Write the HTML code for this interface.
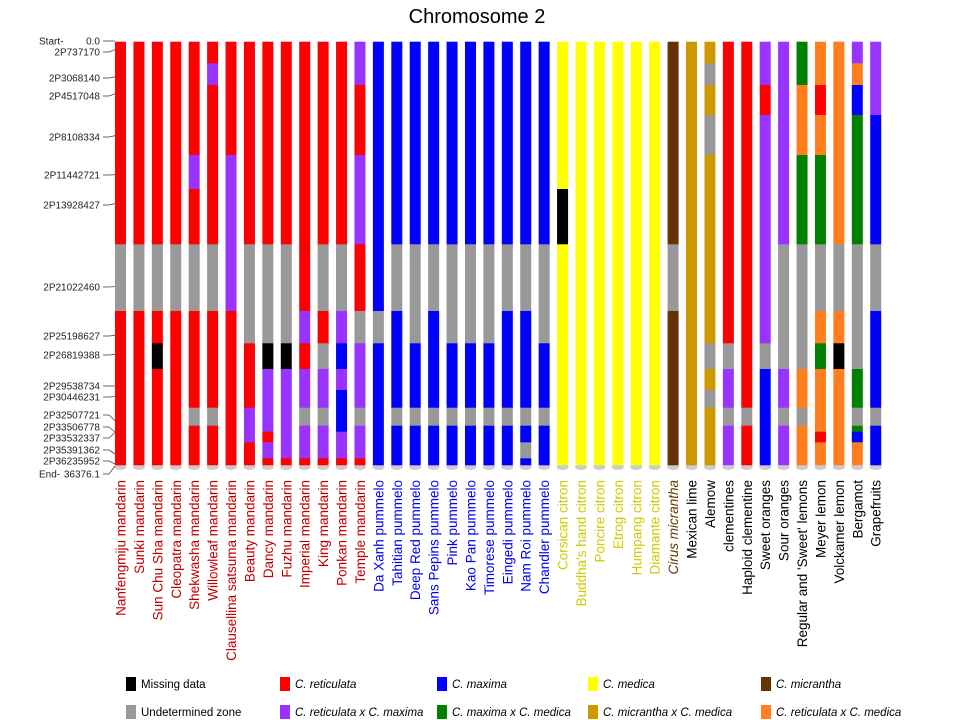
<!DOCTYPE html>
<html><head><meta charset="utf-8"><style>
body{margin:0;background:#fff;width:960px;height:720px;overflow:hidden}
svg{display:block;font-family:"Liberation Sans",sans-serif}
</style></head><body>
<svg id="s" width="960" height="720" xmlns="http://www.w3.org/2000/svg">
<text x="477" y="23" font-size="20" text-anchor="middle">Chromosome 2</text>
</svg>
<script>
const s=document.getElementById('s');const NS='http://www.w3.org/2000/svg';
function el(t,a,txt){const e=document.createElementNS(NS,t);for(const k in a)e.setAttribute(k,a[k]);if(txt!=null)e.textContent=txt;s.appendChild(e);return e;}
const B=[41.7,63.3,85,115,155,189,244.3,311,343.3,369,390,407.7,425.7,431.7,442.3,458.3,465];
const C={R:'#ff0000',P:'#9933ff',B:'#0000ff',Y:'#ffff00',K:'#000000',G:'#999999',N:'#663300',E:'#008000',M:'#cc9900',O:'#ff7f1f'};
const cols=[
"R0-6 G6-7 R7-16","R0-6 G6-7 R7-16","R0-6 G6-7 R7-8 K8-9 R9-16","R0-6 G6-7 R7-16",
"R0-4 P4-5 R5-6 G6-7 R7-11 G11-12 R12-16","R0-1 P1-2 R2-6 G6-7 R7-11 G11-12 R12-16",
"R0-4 P4-7 R7-16","R0-6 G6-8 R8-11 P11-14 R14-16","R0-6 G6-8 K8-9 P9-13 R13-14 P14-15 R15-16",
"R0-6 G6-8 K8-9 P9-15 R15-16","R0-7 P7-8 R8-9 P9-11 G11-12 P12-15 R15-16",
"R0-6 G6-7 R7-8 G8-9 P9-11 G11-12 P12-15 R15-16","R0-6 G6-7 P7-8 B8-9 P9-10 B10-13 P13-15 R15-16",
"P0-2 R2-4 P4-6 R6-7 G7-8 P8-11 G11-12 P12-15 R15-16",
"B0-7 G7-8 B8-16","B0-6 G6-7 B7-11 G11-12 B12-16","B0-6 G6-8 B8-11 G11-12 B12-16",
"B0-6 G6-7 B7-11 G11-12 B12-16","B0-6 G6-8 B8-11 G11-12 B12-16","B0-6 G6-8 B8-11 G11-12 B12-16",
"B0-6 G6-8 B8-11 G11-12 B12-16","B0-6 G6-7 B7-11 G11-12 B12-16",
"B0-6 G6-7 B7-11 G11-12 B12-14 G14-15 B15-16","B0-6 G6-8 B8-11 G11-12 B12-16",
"Y0-5 K5-6 Y6-16","Y0-16","Y0-16","Y0-16","Y0-16","Y0-16",
"N0-6 G6-7 N7-16","M0-16","M0-1 G1-2 M2-3 G3-4 M4-8 G8-9 M9-10 G10-11 M11-16",
"R0-8 G8-9 P9-11 G11-12 P12-16","R0-11 G11-12 R12-16","P0-2 R2-3 P3-8 G8-9 B9-16",
"P0-6 G6-9 P9-11 G11-12 P12-16","E0-2 O2-4 E4-6 G6-9 O9-11 G11-12 O12-16",
"O0-2 R2-3 O3-4 E4-6 G6-7 O7-8 E8-9 O9-13 R13-14 O14-16","O0-6 G6-7 O7-8 K8-9 O9-16",
"P0-1 O1-2 B2-3 E3-6 G6-9 E9-11 G11-12 E12-13 B13-14 O14-16","P0-3 B3-6 G6-7 B7-11 G11-12 B12-16"];
const names=[["Nanfengmiju mandarin","m"],["Sunki mandarin","m"],["Sun Chu Sha mandarin","m"],["Cleopatra mandarin","m"],["Shekwasha mandarin","m"],["Willowleaf mandarin","m"],["Clausellina satsuma mandarin","m"],["Beauty mandarin","m"],["Dancy mandarin","m"],["Fuzhu mandarin","m"],["Imperial mandarin","m"],["King mandarin","m"],["Ponkan mandarin","m"],["Temple mandarin","m"],
["Da Xanh pummelo","p"],["Tahitian pummelo","p"],["Deep Red pummelo","p"],["Sans Pepins pummelo","p"],["Pink pummelo","p"],["Kao Pan pummelo","p"],["Timorese pummelo","p"],["Eingedi pummelo","p"],["Nam Roi pummelo","p"],["Chandler pummelo","p"],
["Corsican citron","c"],["Buddha's hand citron","c"],["Poncire citron","c"],["Etrog citron","c"],["Humpang citron","c"],["Diamante citron","c"],["Cirus micrantha","i"],
["Mexican lime","k"],["Alemow","k"],["clementines","k"],["Haploid clementine","k"],["Sweet oranges","k"],["Sour oranges","k"],["Regular and 'Sweet' lemons","k"],["Meyer lemon","k"],["Volckamer lemon","k"],["Bergamot","k"],["Grapefruits","k"]];
const NC={m:'#c00000',p:'#0000ee',c:'#cccc00',i:'#663300',k:'#000'};
cols.forEach((c,i)=>{const x=115+i*18.42;
 el('ellipse',{cx:x+5.5,cy:467,rx:6,ry:3,fill:'#ccc'});
 c.split(' ').forEach(seg=>{const col=seg[0];const [a,b]=seg.slice(1).split('-').map(Number);
  el('rect',{x:x,y:B[a],width:11,height:B[b]-B[a]+0.3,fill:C[col]});});
 const n=names[i];const cx=x+5.5+5;
 const t=el('text',{x:0,y:0,'font-size':13.5,'text-anchor':'end',fill:NC[n[1]],transform:`translate(${cx},480) rotate(-90)`},n[0]);
 if(n[1]=='i')t.setAttribute('font-style','italic');
});
const labs=[["0.0",41,41],["2P737170",52,49.6],["2P3068140",78,76.8],["2P4517048",96,93.8],["2P8108334",137,135.7],["2P11442721",175,174.7],["2P13928427",205,203.7],["2P21022460",287,286.6],["2P25198627",336,335.3],["2P26819388",355,354.3],["2P29538734",386,386],["2P30446231",397,396.6],["2P32507721",415,420.7],["2P33506778",427,432],["2P33532337",438,432.5],["2P35391362",450,454],["2P36235952",461,464],["36376.1",474,466]];
labs.forEach(l=>{el('text',{x:100,y:l[1]+3.5,'font-size':10,'text-anchor':'end',fill:'#222'},l[0]);
 el('line',{x1:103,y1:l[1],x2:109,y2:l[1],stroke:'#444','stroke-width':0.8});
 el('line',{x1:109,y1:l[1],x2:115,y2:l[2],stroke:'#444','stroke-width':0.8});});
el('text',{x:39,y:44.5,'font-size':10,fill:'#222'},'Start-');
el('text',{x:39,y:477.5,'font-size':10,fill:'#222'},'End-');
const leg=[[136,684,'K','Missing data',0],[290,684,'R','C. reticulata',1],[447,684,'B','C. maxima',1],[598,684,'Y','C. medica',1],[771,684,'N','C. micrantha',1],
[136,712,'G','Undetermined zone',0],[290,712,'P','C. reticulata x C. maxima',1],[447,712,'E','C. maxima x C. medica',1],[598,712,'M','C. micrantha x C. medica',1],[771,712,'O','C. reticulata x C. medica',1]];
leg.forEach(l=>{el('rect',{x:l[0]-10,y:l[1]-7,width:10,height:14,fill:C[l[2]]});
 const t=el('text',{x:l[0]+5,y:l[1]+4,'font-size':11.5,fill:'#000'},l[3]);if(l[4])t.setAttribute('font-style','italic');});
</script>
</body></html>
